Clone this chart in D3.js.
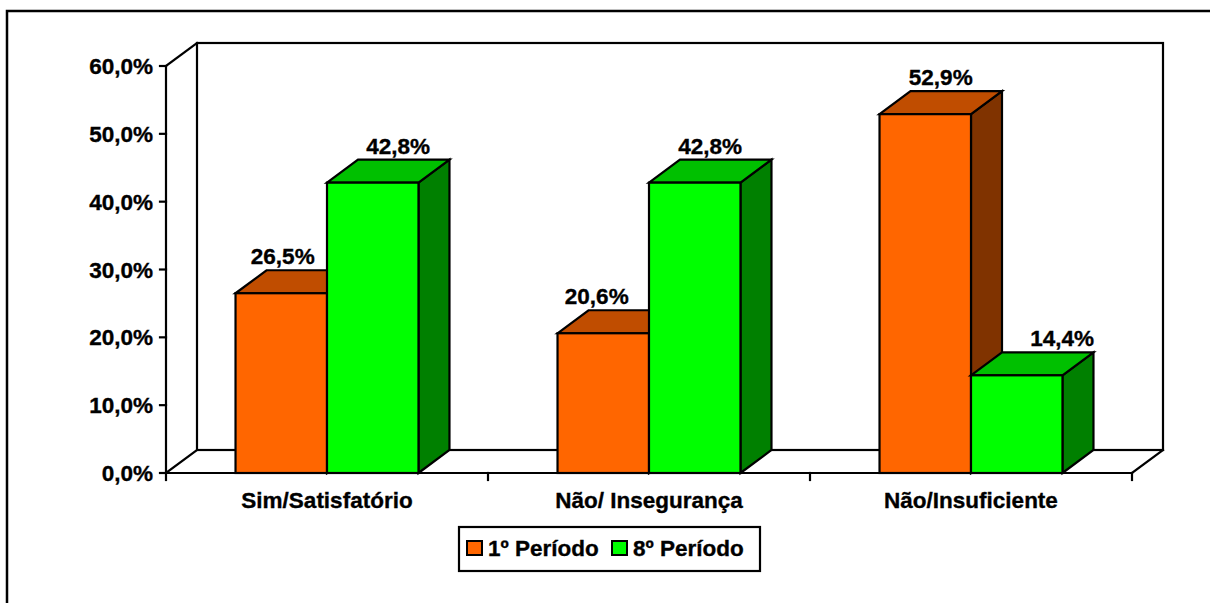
<!DOCTYPE html>
<html><head><meta charset="utf-8">
<script src="https://cdn.jsdelivr.net/npm/d3@7"></script>
<style>
html,body{margin:0;padding:0;background:#fff;}
svg{display:block;}
text{font-family:"Liberation Sans",Arial,sans-serif;font-weight:bold;fill:#000;stroke:#000;stroke-width:0.35px;}
</style>
</head><body>
<svg id="c" width="1210" height="603"></svg>
<script>
// ---- data ----
const categories = ["Sim/Satisfatório", "Não/ Insegurança", "Não/Insuficiente"];
const seriesNames = ["1º Período", "8º Período"];
const periodo1 = [0.265, 0.206, 0.529];
const periodo8 = [0.428, 0.428, 0.144];
const yTicks = [0, 0.1, 0.2, 0.3, 0.4, 0.5, 0.6];

// ---- layout / style ----
const plotL = 166, plotR = 1132, plotB = 473, plotT = 66;
const dx = 31, dy = 23;
const fs = 22.5;
const fronts = ["#FF6600", "#00FF00"];
const topsC = ["#C04D00", "#00C000"];
const sides = ["#803300", "#008000"];
const labelNudge = [[-14, 10], [-22, 0], [0, 30]];
const fmt = v => d3.format(".1f")(v * 100).replace(".", ",") + "%";

const svg = d3.select("#c");

// outer frame (top and left edges)
svg.append("path").attr("d", `M7,603 L7,11 L1210,11`).attr("fill", "none").attr("stroke", "#000").attr("stroke-width", 2.5);

const y = d3.scaleLinear().domain([0, 0.6]).range([plotB, plotT]);
const x0 = d3.scaleBand().domain(categories).range([plotL, plotR]).padding(0);
const x1 = d3.scaleBand().domain(seriesNames).range([0, x0.bandwidth()]).paddingInner(0).paddingOuter(0.76);

const g = svg.append("g");
const ln = (ax, ay, bx, by) => g.append("line").attr("x1", ax).attr("y1", ay).attr("x2", bx).attr("y2", by)
  .attr("stroke", "#000").attr("stroke-width", 2.2).attr("stroke-linecap", "square");

// back wall
g.append("rect").attr("x", plotL + dx).attr("y", plotT - dy).attr("width", plotR - plotL).attr("height", plotB - plotT)
  .attr("fill", "none").attr("stroke", "#000").attr("stroke-width", 2.2);
// side wall / floor
ln(plotL, plotT, plotL + dx, plotT - dy);
ln(plotL, plotB, plotL + dx, plotB - dy);
ln(plotR, plotB, plotR + dx, plotB - dy);

// bars
const data = categories.map((c, i) => ({ c, i, vals: [periodo1[i], periodo8[i]] }));
data.forEach(d => {
  d.vals.forEach((v, s) => {
    const xl = x0(d.c) + x1(seriesNames[s]);
    const w = x1.bandwidth();
    const yt = y(v), yb = y(0);
    const bg = g.append("g").attr("stroke", "#000").attr("stroke-width", 2.2).attr("stroke-linejoin", "miter");
    bg.append("path").attr("fill", sides[s])
      .attr("d", `M${xl + w},${yb} L${xl + w + dx},${yb - dy} L${xl + w + dx},${yt - dy} L${xl + w},${yt} Z`);
    bg.append("path").attr("fill", topsC[s])
      .attr("d", `M${xl},${yt} L${xl + dx},${yt - dy} L${xl + w + dx},${yt - dy} L${xl + w},${yt} Z`);
    bg.append("rect").attr("x", xl).attr("y", yt).attr("width", w).attr("height", yb - yt).attr("fill", fronts[s]);
  });
});

// front axes drawn over
ln(plotL, plotT, plotL, plotB);
ln(plotL, plotB, plotR, plotB);

// y ticks + labels
yTicks.forEach(t => {
  ln(plotL - 6, y(t), plotL, y(t));
  g.append("text").attr("x", 153).attr("y", y(t) + 8).attr("text-anchor", "end")
    .attr("font-size", fs).text(fmt(t));
});
// x ticks
const xt = [plotL].concat(categories.map(c => x0(c) + x0.bandwidth()));
xt.forEach(t => ln(t, plotB, t, plotB + 7));
// category labels
categories.forEach(c => {
  g.append("text").attr("x", x0(c) + x0.bandwidth() / 2).attr("y", 508).attr("text-anchor", "middle")
    .attr("font-size", fs).text(c);
});

// value labels
data.forEach(d => {
  d.vals.forEach((v, s) => {
    const xl = x0(d.c) + x1(seriesNames[s]);
    const w = x1.bandwidth();
    g.append("text").attr("x", xl + w / 2 + dx / 2 + labelNudge[d.i][s]).attr("y", y(v) - dy - 6)
      .attr("text-anchor", "middle").attr("font-size", fs).text(fmt(v));
  });
});

// legend
const lg = svg.append("g");
lg.append("rect").attr("x", 459).attr("y", 527).attr("width", 301).attr("height", 44)
  .attr("fill", "#fff").attr("stroke", "#000").attr("stroke-width", 2.2);
const legX = [467, 612];
seriesNames.forEach((n, s) => {
  lg.append("rect").attr("x", legX[s]).attr("y", 541).attr("width", 15).attr("height", 14)
    .attr("fill", fronts[s]).attr("stroke", "#000").attr("stroke-width", 2);
  lg.append("text").attr("x", legX[s] + 21).attr("y", 556).attr("font-size", fs).text(n);
});
</script>
</body></html>
